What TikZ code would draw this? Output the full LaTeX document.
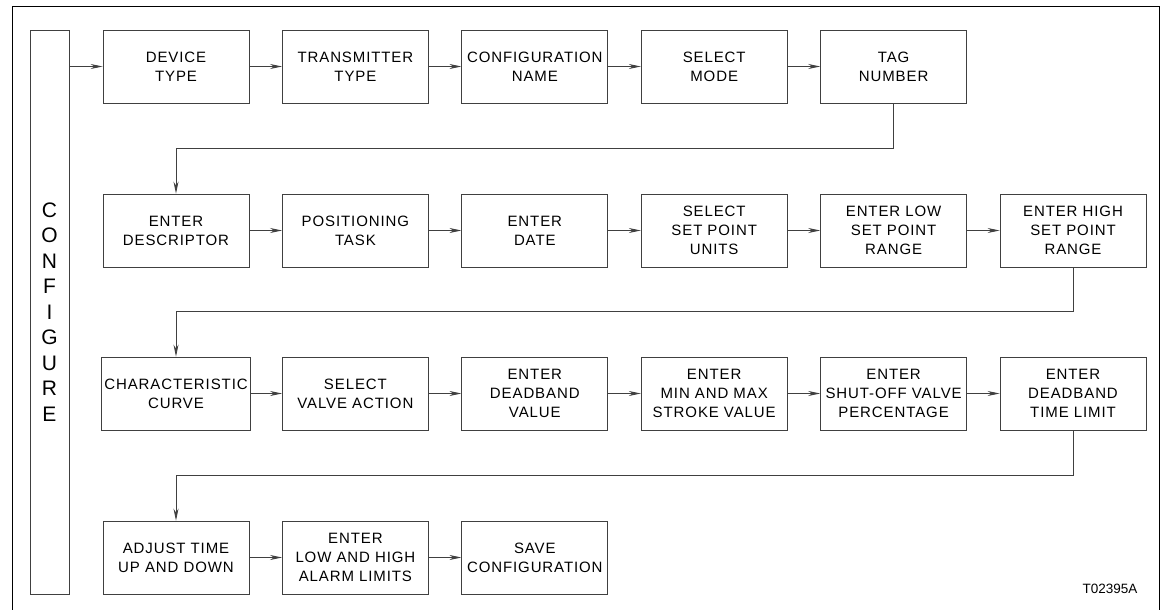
\documentclass[tikz,border=0pt]{standalone}
\usepackage{fontspec}
\setmainfont{Liberation Sans}
\newfontfamily\boxfont{Liberation Sans}[LetterSpace=6]
\usepackage{tikz}
\usetikzlibrary{arrows.meta,positioning}

\begin{document}
\begin{tikzpicture}[x=1pt,y=-1pt,
  stage/.style={draw=black!75,line width=0.8pt,minimum width=146pt,minimum height=73pt,
    inner xsep=3pt,align=center,font=\boxfont\fontsize{15}{19}\selectfont},
  flow/.style={draw=black!75,line width=0.8pt,-{Stealth[length=12pt,width=5pt]}}]
\useasboundingbox (0,0) rectangle (1168,610);
\draw[line width=0.8pt] (12,610) |- (1159,6) -- (1159,610);
% configure bar
\node[draw=black!75,line width=0.8pt,minimum width=39pt,minimum height=564pt,align=center,
  font=\fontsize{21}{25.5}\selectfont] (cfg) at (49.5,312) {C\\O\\N\\F\\I\\G\\U\\R\\E};
% rows of steps
\foreach \c/\lab in {0/{DEVICE\\TYPE},1/{TRANSMITTER\\TYPE},2/{CONFIGURATION\\NAME},3/{SELECT\\MODE},4/{TAG\\NUMBER}}{
  \node[stage] (n0-\c) at (176+\c*179.4,66.5) {\lab};
}
\foreach \c/\lab in {0/{ENTER\\DESCRIPTOR},1/{POSITIONING\\TASK},2/{ENTER\\DATE},3/{SELECT\\SET POINT\\UNITS},4/{ENTER LOW\\SET POINT\\RANGE},5/{ENTER HIGH\\SET POINT\\RANGE}}{
  \node[stage] (n1-\c) at (176+\c*179.4,230.5) {\lab};
}
\foreach \c/\lab in {0/{CHARACTERISTIC\\CURVE},1/{SELECT\\VALVE ACTION},2/{ENTER\\DEADBAND\\VALUE},3/{ENTER\\MIN AND MAX\\STROKE VALUE},4/{ENTER\\SHUT-OFF VALVE\\PERCENTAGE},5/{ENTER\\DEADBAND\\TIME LIMIT}}{
  \node[stage] (n2-\c) at (176+\c*179.4,393.5) {\lab};
}
\foreach \c/\lab in {0/{ADJUST TIME\\UP AND DOWN},1/{ENTER\\LOW AND HIGH\\ALARM LIMITS},2/{SAVE\\CONFIGURATION}}{
  \node[stage] (n3-\c) at (176+\c*179.4,557.5) {\lab};
}
\node[anchor=east,font=\fontsize{13.5}{16}\selectfont] (figid) at (1141,589) {T02395A};
% arrows
\draw[flow] (cfg.east |- n0-0) -- (n0-0);
\foreach \r/\n in {0/4,1/5,2/5,3/2}{
  \foreach \c [remember=\c as \p (initially 0)] in {1,...,\n}
    \draw[flow] (n\r-\p) -- (n\r-\c);
}
\draw[flow] (n0-4.south) -- ++(0,45) -| (n1-0.north);
\draw[flow] (n1-5.south) -- ++(0,44) -| (n2-0.north);
\draw[flow] (n2-5.south) -- ++(0,45) -| (n3-0.north);
\end{tikzpicture}
\end{document}
